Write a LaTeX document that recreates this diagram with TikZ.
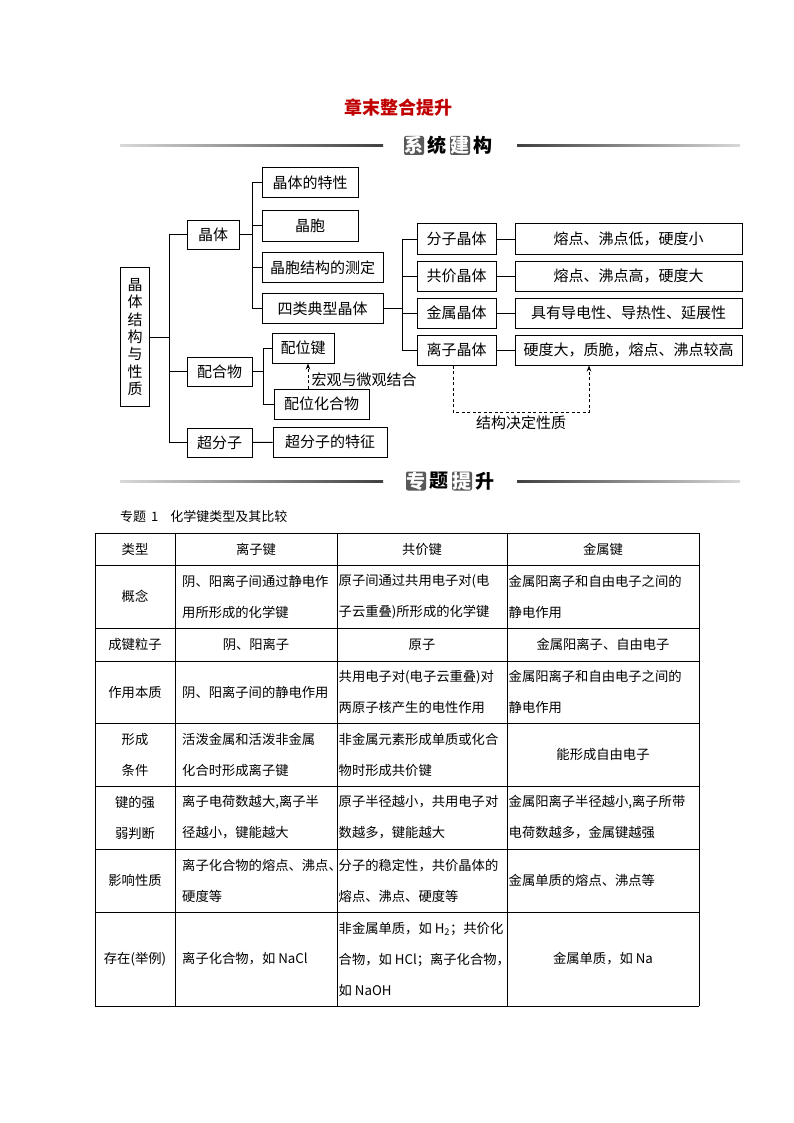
\documentclass[tikz,border=0pt]{standalone}
\usepackage{fontspec}
\setmainfont{Noto Sans CJK SC}
\usepackage{xcolor}
\usepackage{tikz}
\usetikzlibrary{arrows.meta, positioning}
\definecolor{titlered}{RGB}{192,0,0}
\newcommand{\boxfont}{\fontsize{15pt}{18pt}\selectfont}
\newcommand{\tabfont}{\fontsize{13.3pt}{31pt}\selectfont}
\tikzset{
    box/.style={
        rectangle, draw, line width=1pt,
        minimum height=30pt, inner sep=0pt, font=\boxfont
    },
    sidebox/.style={box, minimum width=79pt},
    propbox/.style={box, minimum width=227pt},
    link/.style={draw, line width=1pt},
    dasharrow/.style={draw, line width=0.8pt, dash pattern=on 3pt off 2.5pt, -{Stealth[length=6pt, width=4.5pt]}},
    % header characters
    hchar/.style={font=\fontsize{19pt}{19pt}\selectfont\bfseries, inner sep=0pt, minimum width=20pt, minimum height=19pt},
    hbox/.style={hchar, fill=black!65, text=white, rounded corners=2pt},
    % table
    grid/.style={draw, line width=0.8pt},
    cell/.style={font=\tabfont, align=center},
    lcell/.style={font=\tabfont, align=left, anchor=west, inner xsep=0pt}
}

\begin{document}
\begin{tikzpicture}[x=1pt, y=-1pt]
    \fill [white] (0,0) rectangle (794,1123);
    \useasboundingbox (0,0) rectangle (794,1123);

    \node (title) [font=\fontsize{18pt}{18pt}\selectfont\bfseries, text=titlered] at (398,108) {章末整合提升};

    % header 1
    \shade [left color=black!15, right color=black!75] (120,144.5) rectangle (383,146.5);
    \shade [left color=black!75, right color=black!15] (517,144.5) rectangle (740,146.5);
    \node (h1a) [hbox] at (414,145.5) {系};
    \node (h1b) [hchar] at (437,145.5) {统};
    \node (h1c) [hbox] at (460,145.5) {建};
    \node (h1d) [hchar] at (483,145.5) {构};

    % tree
    \node (root) [box, minimum width=29pt, minimum height=139pt, align=center, font=\fontsize{15pt}{17.3pt}\selectfont] at (135,337) {晶\\体\\结\\构\\与\\性\\质};
    \node (jt) [box, minimum width=52pt, minimum height=29pt] at (213,235) {晶体};
    \node (phw) [box, minimum width=65pt, minimum height=29pt] at (219.5,371.5) {配合物};
    \node (cfz) [box, minimum width=65pt, minimum height=29pt] at (219.5,442.5) {超分子};

    \node (tx) [box, minimum width=96pt] at (310,183) {晶体的特性};
    \node (jb) [box, minimum width=96pt] at (310,226) {晶胞};
    \node (cd) [box, minimum width=121pt] at (322.5,267.5) {晶胞结构的测定};
    \node (sl) [box, minimum width=121pt] at (322.5,308.5) {四类典型晶体};

    \node (pwj) [box, minimum width=62pt] at (303,348) {配位键};
    \node (pwhhw) [box, minimum width=95pt] at (321.5,404) {配位化合物};
    \node (tz) [box, minimum width=114pt] at (330,442) {超分子的特征};

    \node (fz) [sidebox] at (456.5,239) {分子晶体};
    \node (gj) [sidebox, below=6pt of fz] {共价晶体};
    \node (js) [sidebox, below=6pt of gj] {金属晶体};
    \node (lz) [sidebox, below=6pt of js] {离子晶体};
    \node (p1) [propbox, right=18pt of fz] {熔点、沸点低，硬度小};
    \node (p2) [propbox, right=18pt of gj] {熔点、沸点高，硬度大};
    \node (p3) [propbox, right=18pt of js] {具有导电性、导热性、延展性};
    \node (p4) [propbox, right=18pt of lz] {硬度大，质脆，熔点、沸点较高};

    \draw [link] (root.east) -- ++(19.5,0) coordinate (t1);
    \foreach \n in {jt,phw,cfz}
        \draw [link] (\n.west) -| (t1);
    \draw [link] (jt.east) -- ++(12.5,0) coordinate (t2);
    \foreach \n in {tx,jb,cd,sl}
        \draw [link] (\n.west) -| (t2);
    \draw [link] (sl.east) -- ++(19,0) coordinate (t3);
    \foreach \n in {fz,gj,js,lz}
        \draw [link] (\n.west) -| (t3);
    \foreach \a/\b in {fz/p1,gj/p2,js/p3,lz/p4}
        \draw [link] (\a) -- (\b);
    \draw [link] (phw.east) -- ++(11,0) coordinate (t4);
    \foreach \n in {pwj,pwhhw}
        \draw [link] (\n.west) -| (t4);
    \draw [link] (cfz) -- (tz);

    \coordinate (ax) at (308,0);
    \draw [dasharrow] (pwhhw.north -| ax) -- node [right, pos=0.35, font=\boxfont] (hgw) {宏观与微观结合} (pwj.south -| ax);
    \coordinate (dk) at (589,412);
    \draw [dasharrow] ([xshift=-3.5pt]lz.south) |- node [pos=0.75, below, font=\boxfont] (jgjd) {结构决定性质} (dk) -- (dk |- p4.south);

    % header 2
    \shade [left color=black!15, right color=black!75] (120,480) rectangle (383,482);
    \shade [left color=black!75, right color=black!15] (517,480) rectangle (740,482);
    \node (h2a) [hbox] at (416,481) {专};
    \node (h2b) [hchar] at (439,481) {题};
    \node (h2c) [hbox] at (462,481) {提};
    \node (h2d) [hchar] at (485,481) {升};

    \node (cap) [anchor=west, inner xsep=0pt, font=\fontsize{13pt}{13pt}\selectfont] at (120,517) {专题\hspace{5pt}1\hspace{12pt}化学键类型及其比较};

    % table
    \foreach \y in {533,565,628,661,723,786,849,912,1006}
        \draw [grid] (95,\y) -- (699,\y);
    \foreach \x in {95,175,337,507,699}
        \draw [grid] (\x,533) -- (\x,1006);

    \node (a0) [cell] at (135,549) {类型};
    \node (a1) [cell] at (256,549) {离子键};
    \node (a2) [cell] at (422,549) {共价键};
    \node (a3) [cell] at (603,549) {金属键};

    \node (b0) [cell] at (135,596.5) {概念};
    \node (b1) [lcell] at (182,596.5) {阴、阳离子间通过静电作\\用所形成的化学键};
    \node (b2) [lcell] at (338.5,596.5) {原子间通过共用电子对(电\\子云重叠)所形成的化学键};
    \node (b3) [lcell] at (508.5,596.5) {金属阳离子和自由电子之间的\\静电作用};

    \node (c0) [cell] at (135,644.5) {成键粒子};
    \node (c1) [cell] at (256,644.5) {阴、阳离子};
    \node (c2) [cell] at (422,644.5) {原子};
    \node (c3) [cell] at (603,644.5) {金属阳离子、自由电子};

    \node (d0) [cell] at (135,692) {作用本质};
    \node (d1) [lcell] at (182,692) {阴、阳离子间的静电作用};
    \node (d2) [lcell] at (338.5,692) {共用电子对(电子云重叠)对\\两原子核产生的电性作用};
    \node (d3) [lcell] at (508.5,692) {金属阳离子和自由电子之间的\\静电作用};

    \node (e0) [cell] at (135,754.5) {形成\\条件};
    \node (e1) [lcell] at (182,754.5) {活泼金属和活泼非金属\\化合时形成离子键};
    \node (e2) [lcell] at (338.5,754.5) {非金属元素形成单质或化合\\物时形成共价键};
    \node (e3) [cell] at (603,754.5) {能形成自由电子};

    \node (f0) [cell] at (135,817.5) {键的强\\弱判断};
    \node (f1) [lcell] at (182,817.5) {离子电荷数越大,离子半\\径越小，键能越大};
    \node (f2) [lcell] at (338.5,817.5) {原子半径越小，共用电子对\\数越多，键能越大};
    \node (f3) [lcell] at (508.5,817.5) {金属阳离子半径越小,离子所带\\电荷数越多，金属键越强};

    \node (g0) [cell] at (135,880.5) {影响性质};
    \node (g1) [lcell] at (182,880.5) {离子化合物的熔点、沸点、\\硬度等};
    \node (g2) [lcell] at (338.5,880.5) {分子的稳定性，共价晶体的\\熔点、沸点、硬度等};
    \node (g3) [lcell] at (508.5,880.5) {金属单质的熔点、沸点等};

    \node (k0) [cell] at (135,959) {存在(举例)};
    \node (k1) [lcell] at (182,959) {离子化合物，如 NaCl};
    \node (k2) [lcell] at (338.5,959) {非金属单质，如 H\textsubscript{2}；共价化\\合物，如 HCl；离子化合物，\\如 NaOH};
    \node (k3) [cell] at (603,959) {金属单质，如 Na};
\end{tikzpicture}
\end{document}
